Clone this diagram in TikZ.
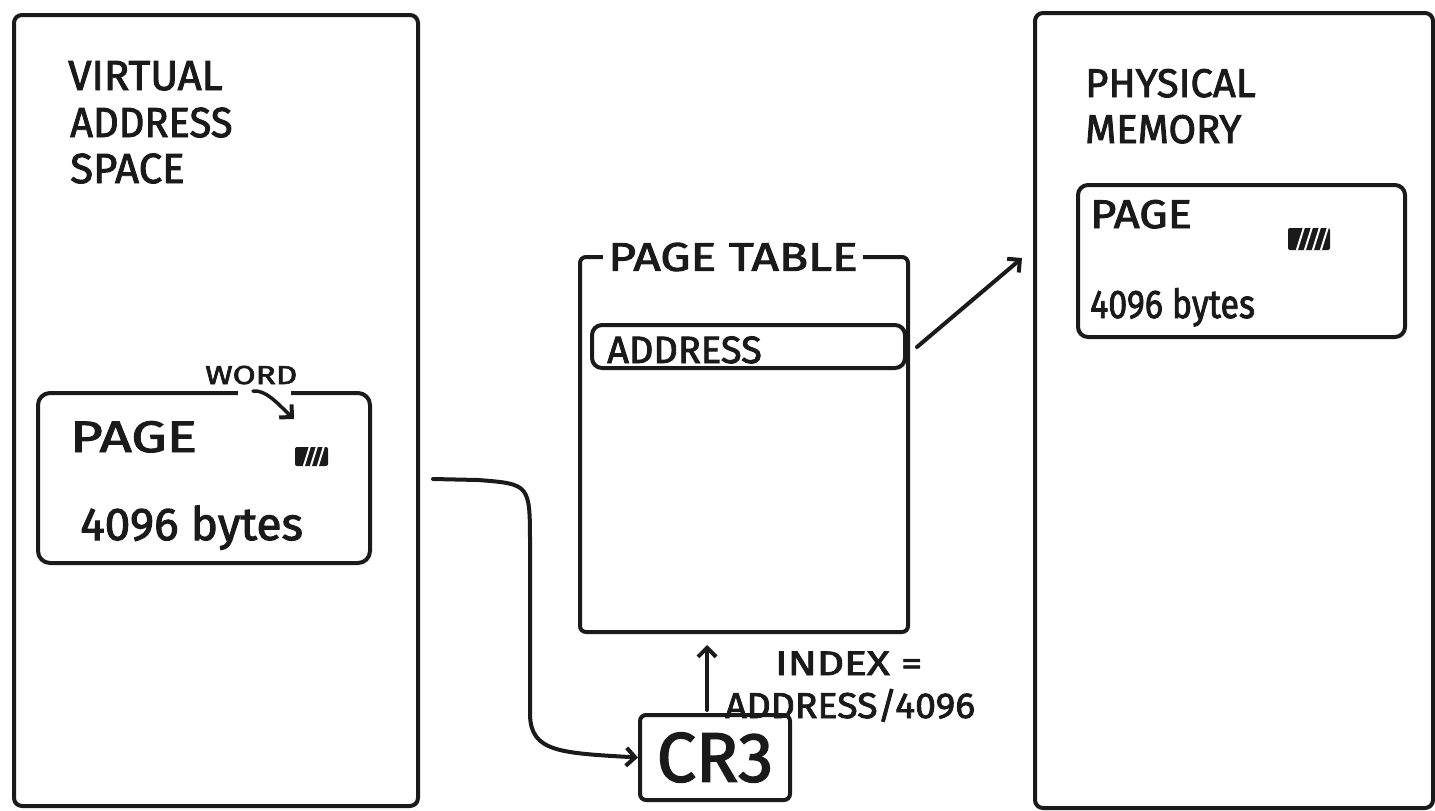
\documentclass[tikz,border=0pt]{standalone}
\usepackage{fontspec}
\setmainfont{Fira Sans}
\newfontfamily\handfont{Fira Sans}[FakeBold=2.2]
\usetikzlibrary{arrows.meta}
\definecolor{inkc}{HTML}{1A1A1A}
\newcommand{\fs}[1]{\fontsize{#1}{#1}\handfont}
\newcommand{\hs}[2]{\scalebox{#1}[1]{#2}}
\begin{document}
\begin{tikzpicture}[x=1pt,y=-1pt,
  ink/.style={line width=4pt, draw=inkc, line cap=round, line join=round},
  frame/.style={ink, rectangle, rounded corners=8pt, inner sep=0pt},
  lbl/.style={anchor=base west, inner sep=0pt, text=inkc},
  arr/.style={ink, -{Straight Barb[length=9pt, width=18pt, line width=4pt]}},
  hatch/.style={fill=inkc, rectangle, rounded corners=2pt, inner sep=0pt},
  gridline/.style={draw=white, line width=2pt}
]
\useasboundingbox[fill=white] (0,0) rectangle (1435,811);

% ---- virtual address space ----
\node[frame, minimum width=404, minimum height=791] (vas) at (216,410.5) {};
\node[lbl] (vastitle1) at (68,90) {\fs{42}VIRTUAL};
\node[lbl] (vastitle2) at (70,137) {\fs{42}\hs{0.95}{ADDRESS}};
\node[lbl] (vastitle3) at (70,183) {\fs{42}SPACE};

\node[frame, rounded corners=12pt, minimum width=332, minimum height=170] (vpage) at (204,478) {};
\draw[draw=white, line width=7pt] (238,393) -- (291,393);
\node[lbl] (vpagename) at (70,452) {\fs{44}\hs{1.28}{PAGE}};
\node[lbl] (vpagesize) at (80,540) {\fs{46}4096 bytes};

\node[hatch, minimum width=33, minimum height=19] (vword) at (311.5,456.5) {};
\draw[gridline] ([xshift=9pt]vword.south west) -- ([xshift=15pt]vword.north west);
\draw[gridline] ([xshift=16pt]vword.south west) -- ([xshift=22pt]vword.north west);
\draw[gridline] ([xshift=23pt]vword.south west) -- ([xshift=29pt]vword.north west);

\node[lbl] (wordlbl) at (205,384) {\fs{26}\hs{1.28}{WORD}};
\coordinate (wordtail) at (253,391);
\coordinate (wordhead) at (294,419);
\draw[arr, line width=3.5pt] (wordtail) .. controls (266,390) and (276,402) .. (wordhead);

% ---- page table ----
\node[frame, rounded corners=6pt, minimum width=328, minimum height=375] (pt) at (744,444.5) {};
\node[fill=white, inner xsep=5pt, inner ysep=0pt, text=inkc] (pttitle) at (733,257) {\fs{40}\hs{1.2}{PAGE TABLE}};
\node[frame, rounded corners=10pt, minimum width=313, minimum height=43] (ptrow) at (748.5,346.5) {};
\node[lbl] (ptrowtext) at (607,363) {\fs{38}ADDRESS};

% ---- CR3 register ----
\node[frame, rounded corners=6pt, minimum width=150, minimum height=85] (cr3) at (715,757.5) {};
\node[text=inkc, inner sep=0pt] (cr3text) at (cr3.center) {\fs{70}CR3};

\coordinate (idxfoot) at (707,710);
\coordinate (idxhead) at (707,645);
\draw[arr] (idxfoot) -- (idxhead);
\node[lbl] (idx1) at (775,675) {\fs{34}\hs{1.25}{INDEX =}};
\node[lbl] (idx2) at (725,718) {\fs{36}\hs{1.04}{ADDRESS/4096}};

% ---- virtual page to CR3 ----
\coordinate (vstart) at (433,479);
\draw[arr] (vstart) -- (478,480) .. controls (530,484) .. (530,545)
  -- (530,715) .. controls (531,752) and (560,753) .. (cr3.west);

% ---- physical memory ----
\node[frame, minimum width=398, minimum height=795] (pm) at (1234,410.5) {};
\node[lbl] (pmtitle1) at (1085,97) {\fs{40}PHYSICAL};
\node[lbl] (pmtitle2) at (1085,143) {\fs{40}MEMORY};

\node[frame, rounded corners=10pt, minimum width=327, minimum height=152] (ppage) at (1241.5,261) {};
\node[lbl] (ppagename) at (1090,228) {\fs{40}\hs{1.13}{PAGE}};
\node[lbl] (ppagesize) at (1090,318) {\fs{40}\hs{0.85}{4096 bytes}};

\node[hatch, minimum width=42, minimum height=22] (pword) at (1309,239) {};
\draw[gridline] ([xshift=9pt]pword.south west) -- ([xshift=16pt]pword.north west);
\draw[gridline] ([xshift=17pt]pword.south west) -- ([xshift=24pt]pword.north west);
\draw[gridline] ([xshift=25pt]pword.south west) -- ([xshift=32pt]pword.north west);
\draw[gridline] ([xshift=33pt]pword.south west) -- ([xshift=40pt]pword.north west);

% ---- page table entry to physical page ----
\coordinate (pptail) at (917,347);
\coordinate (pphead) at (1022,258);
\draw[arr] (pptail) -- (pphead);
\end{tikzpicture}
\end{document}
